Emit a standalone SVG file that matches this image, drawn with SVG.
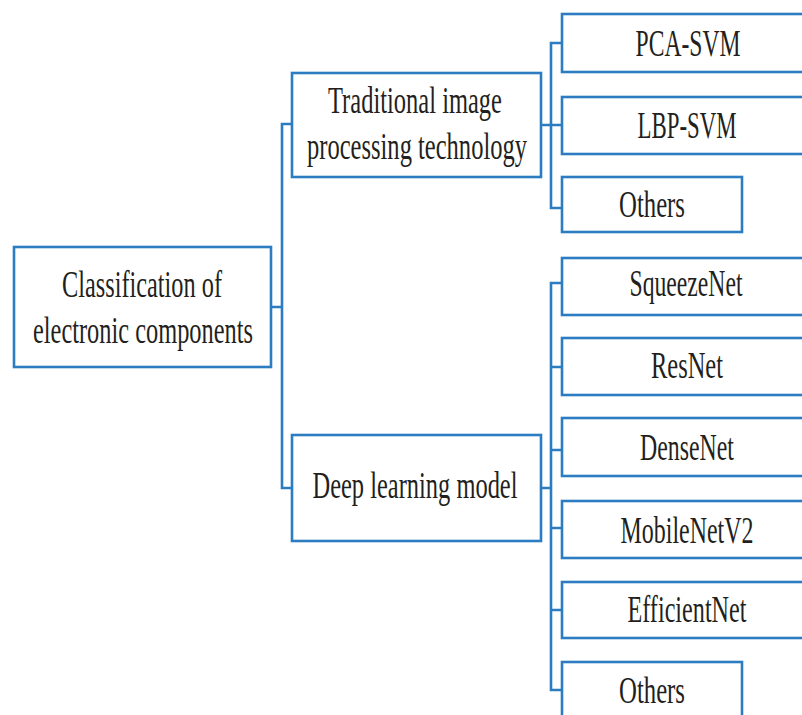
<svg xmlns="http://www.w3.org/2000/svg" width="802" height="715" viewBox="0 0 802 715">
<style>
.box{fill:#fff;stroke:#2b7cc0;stroke-width:2.6}
.ln{fill:none;stroke:#2b7cc0;stroke-width:2.6}
text{font-family:"Liberation Serif","Times New Roman",serif;font-size:38px;fill:#231f20;text-anchor:middle}
</style>
<rect width="802" height="715" fill="#fff"/>
<g id="connectors">
<path class="ln" d="M271,307 H282 M292,124 H282 V488 H292"/>
<path class="ln" d="M541,125 H551 M562,43 H551 V208 H562 M551,125 H562"/>
<path class="ln" d="M541,488 H551 M562,283 H551 V690 H562 M551,367 H562 M551,450 H562 M551,528 H562 M551,610 H562"/>
</g>
<g id="root">
<rect class="box" x="14" y="247" width="257" height="120"/>
<text x="142" y="297" textLength="160" lengthAdjust="spacingAndGlyphs">Classification of</text>
<text x="143" y="343" textLength="220" lengthAdjust="spacingAndGlyphs">electronic components</text>
</g>
<g id="traditional">
<rect class="box" x="292" y="73" width="249" height="104"/>
<text x="415" y="113" textLength="174" lengthAdjust="spacingAndGlyphs">Traditional image</text>
<text x="417" y="159" textLength="220" lengthAdjust="spacingAndGlyphs">processing technology</text>
</g>
<g id="deep">
<rect class="box" x="292" y="435" width="249" height="106"/>
<text x="415" y="498" textLength="205" lengthAdjust="spacingAndGlyphs">Deep learning model</text>
</g>
<g id="pca-svm">
<rect class="box" x="562" y="14" width="250" height="58"/>
<text x="688" y="56" textLength="105" lengthAdjust="spacingAndGlyphs">PCA-SVM</text>
</g>
<g id="lbp-svm">
<rect class="box" x="562" y="97" width="250" height="57"/>
<text x="687" y="138" textLength="99" lengthAdjust="spacingAndGlyphs">LBP-SVM</text>
</g>
<g id="others1">
<rect class="box" x="562" y="177" width="180" height="55"/>
<text x="652" y="217" textLength="66" lengthAdjust="spacingAndGlyphs">Others</text>
</g>
<g id="squeezenet">
<rect class="box" x="562" y="258" width="250" height="57"/>
<text x="686" y="296" textLength="113" lengthAdjust="spacingAndGlyphs">SqueezeNet</text>
</g>
<g id="resnet">
<rect class="box" x="562" y="338" width="250" height="57"/>
<text x="687" y="378" textLength="72" lengthAdjust="spacingAndGlyphs">ResNet</text>
</g>
<g id="densenet">
<rect class="box" x="562" y="418" width="250" height="58"/>
<text x="687" y="460" textLength="94" lengthAdjust="spacingAndGlyphs">DenseNet</text>
</g>
<g id="mobilenetv2">
<rect class="box" x="562" y="501" width="250" height="57"/>
<text x="687" y="543" textLength="133" lengthAdjust="spacingAndGlyphs">MobileNetV2</text>
</g>
<g id="efficientnet">
<rect class="box" x="562" y="582" width="250" height="56"/>
<text x="687" y="622" textLength="119" lengthAdjust="spacingAndGlyphs">EfficientNet</text>
</g>
<g id="others2">
<rect class="box" x="562" y="662" width="180" height="60"/>
<text x="652" y="703" textLength="66" lengthAdjust="spacingAndGlyphs">Others</text>
</g>
</svg>
